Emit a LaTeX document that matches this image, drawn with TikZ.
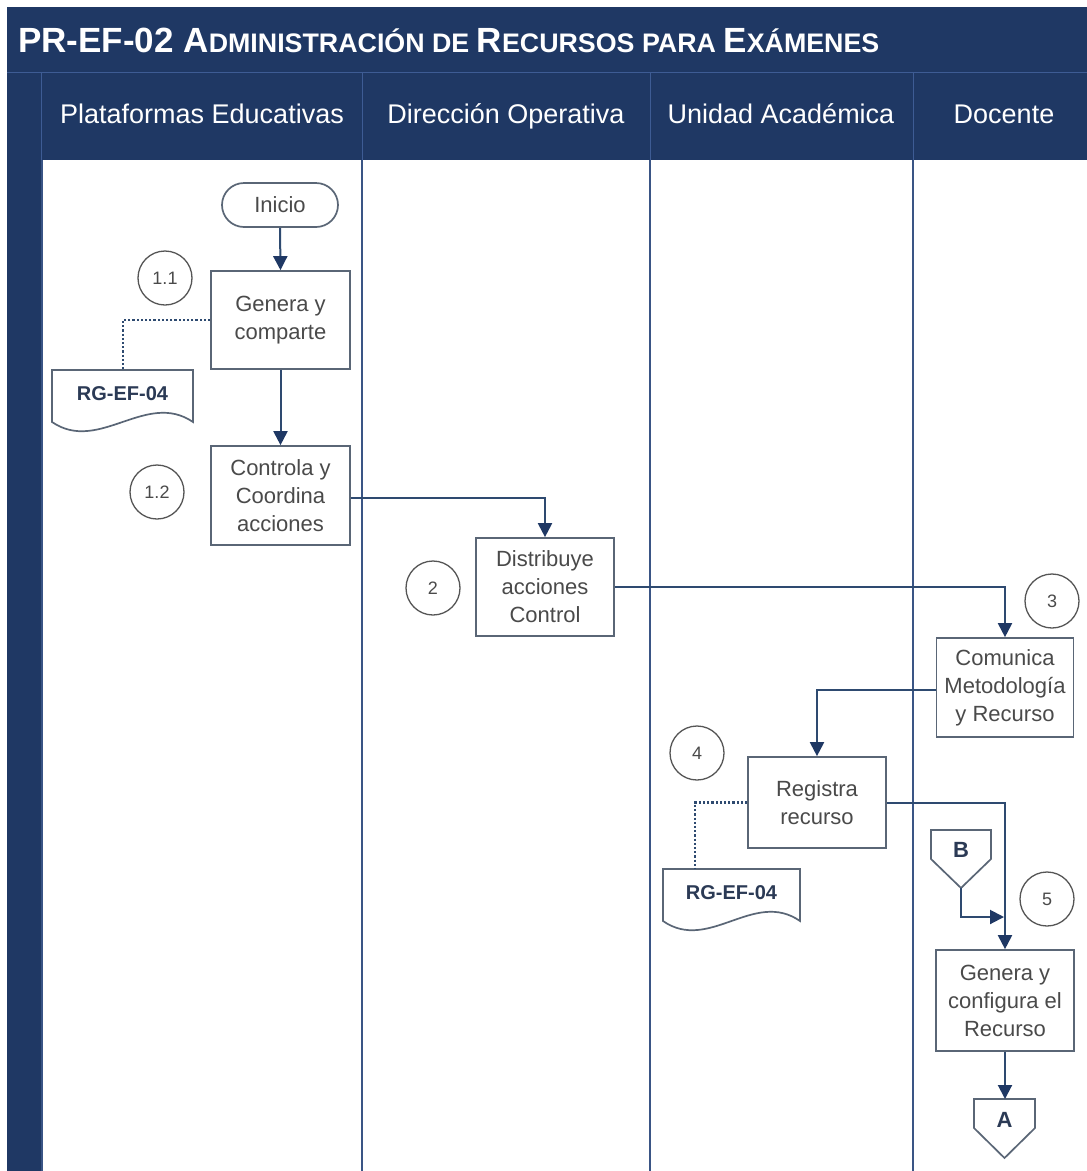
\documentclass[tikz,border=0pt]{standalone}
\usepackage{fontspec}
\setmainfont{Liberation Sans}
\usetikzlibrary{arrows.meta}
\definecolor{navy}{HTML}{1F3864}
\definecolor{hdrline}{HTML}{3E5C94}
\definecolor{laneline}{HTML}{3A5585}
\definecolor{boxline}{HTML}{5A6676}
\definecolor{txtgray}{HTML}{4A4A4A}
\definecolor{doctxt}{HTML}{2B3A55}
\definecolor{arrowline}{HTML}{2E4A70}
\definecolor{circline}{HTML}{555555}
\begin{document}
\begin{tikzpicture}[x=1pt,y=-1pt,
  procbox/.style={draw=boxline, line width=1.7pt, fill=white, align=center,
    text=txtgray, font=\fontsize{22}{28}\selectfont, inner sep=0pt},
  stepnum/.style={draw=circline, line width=1.3pt, circle, minimum size=54pt,
    inner sep=0pt, text=txtgray, font=\fontsize{18}{18}\selectfont},
  docshape/.style={draw=boxline, line width=1.7pt, fill=white},
  doclabel/.style={text=doctxt, font=\fontsize{20}{20}\selectfont\bfseries, inner sep=0pt},
  conn/.style={draw=arrowline, line width=2pt, -{Triangle[length=14pt,width=14pt,color=navy]}},
  dotconn/.style={draw=arrowline, line width=2.2pt, dotted},
  lanehead/.style={text=white, font=\fontsize{27}{27}\selectfont, anchor=base, inner sep=0pt},
  lanesep/.style={draw=laneline, line width=1.9pt}
]
\useasboundingbox (0,0) rectangle (1087,1171);
\fill[white] (0,0) rectangle (1087,1171);

% header background
\fill[navy] (7,7) rectangle (1087,160);
\fill[navy] (7,7) rectangle (41,1171);
\draw[hdrline, line width=1pt] (7,72) -- (1087,72);
\foreach \x in {41,362,650,913} \draw[hdrline, line width=1pt] (\x,72) -- (\x,160);

% title
\node[anchor=base west, inner sep=0pt, text=white] (title) at (18,52)
  {\bfseries\fontsize{35}{35}\selectfont PR-EF-02 A{\fontsize{26.8}{26.8}\selectfont DMINISTRACIÓN DE }R{\fontsize{26.8}{26.8}\selectfont ECURSOS PARA }E{\fontsize{26.8}{26.8}\selectfont XÁMENES}};

% lane headers
\node[lanehead] (h1) at (202,123) {Plataformas Educativas};
\node[lanehead] (h2) at (506,123) {Dirección Operativa};
\node[lanehead] (h3) at (781,123) {Unidad Académica};
\node[lanehead] (h4) at (1004,123) {Docente};

% lane lines
\draw[lanesep] (42,160) -- (42,1171);
\foreach \x in {362,650,913} \draw[lanesep] (\x,160) -- (\x,1171);

% nodes
\node[procbox, rounded corners=22pt, minimum width=116pt, minimum height=44pt] (inicio) at (280,205) {Inicio};
\node[stepnum] (c11) at (165,278) {1.1};
\node[procbox, minimum width=139pt, minimum height=98pt] (genera) at (280.5,320) {Genera y\\comparte};

\draw[docshape] (52,370) -- (193,370) -- (193,422) .. controls (146,390) and (99,454) .. (52,422) -- cycle;
\coordinate (doc1top) at (123,370);
\node[doclabel] (doc1) at (122.5,394) {RG-EF-04};

\node[stepnum] (c12) at (157,492) {1.2};
\node[procbox, minimum width=139pt, minimum height=99pt] (controla) at (280.5,495.5) {Controla y\\Coordina\\acciones};

\node[stepnum] (c2) at (433,588) {2};
\node[procbox, minimum width=138pt, minimum height=98pt] (distrib) at (545,587) {Distribuye\\acciones\\Control};

\node[stepnum] (c3) at (1052,601) {3};
\node[procbox, minimum width=137pt, minimum height=99pt] (comunica) at (1005,687.5) {Comunica\\Metodología\\y Recurso};

\node[stepnum] (c4) at (697,753) {4};
\node[procbox, minimum width=138pt, minimum height=91pt] (registra) at (817,802.5) {Registra\\recurso};

\draw[docshape] (663,869) -- (800,869) -- (800,921) .. controls (754,889) and (709,953) .. (663,921) -- cycle;
\coordinate (doc2top) at (695,869);
\node[doclabel] (doc2) at (731.5,893) {RG-EF-04};

% off-page connector B
\draw[docshape] (931,830) -- (991,830) -- (991,859) -- (961,888) -- (931,859) -- cycle;
\coordinate (Bpt) at (961,888);
\node[doclabel, font=\fontsize{22}{22}\selectfont\bfseries] (B) at (961,850) {B};
\coordinate (Bbend) at (961,917);
\coordinate (Bend) at (1004,917);

\node[stepnum] (c5) at (1047,899) {5};
\node[procbox, minimum width=138pt, minimum height=101pt] (genconf) at (1005,1000.5) {Genera y\\configura el\\Recurso};

% off-page connector A
\draw[docshape] (974,1099) -- (1035,1099) -- (1035,1128) -- (1004.5,1158) -- (974,1128) -- cycle;
\coordinate (Atop) at (1005,1099);
\node[doclabel, font=\fontsize{22}{22}\selectfont\bfseries] (A) at (1004.5,1120) {A};

% connectors
\draw[conn] (inicio.south) -- (genera.north);
\draw[conn] (genera.south) -- (controla.north);
\draw[conn] ([yshift=-2pt]controla.east) -| (distrib.north);
\draw[conn] (distrib.east) -| (comunica.north);
\draw[conn] ([yshift=-2pt]comunica.west) -| (registra.north);
\draw[conn] (registra.east) -| (genconf.north);
\draw[conn] (Bpt) -- (Bbend) -- (Bend);
\draw[conn] (genconf.south) -- (Atop);
\draw[dotconn] (genera.west) -| (doc1top);
\draw[dotconn] (registra.west) -| (doc2top);
\end{tikzpicture}
\end{document}
